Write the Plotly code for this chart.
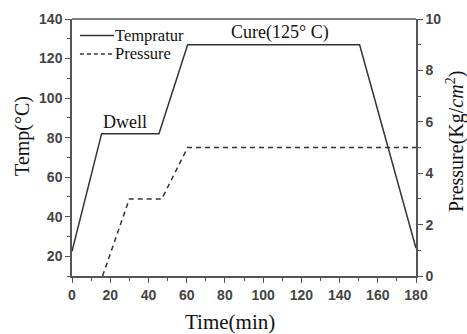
import plotly.graph_objects as go

time_temp = [0, 15.5, 45.5, 60.5, 150.5, 180]
temp = [22.5, 82, 82, 127, 127, 24]
time_pres = [16, 30, 47, 60.5, 180]
pres = [0, 3.0, 3.0, 5.0, 5.0]

x_ticks = [0, 20, 40, 60, 80, 100, 120, 140, 160, 180]
yl_ticks = [20, 40, 60, 80, 100, 120, 140]
yr_ticks = [0, 2, 4, 6, 8, 10]
series_names = ["Tempratur", "Pressure"]

ink = "#333333"
tick_ink = "#444444"
serif = "Liberation Serif"
sans = "Liberation Sans"

fig = go.Figure()
fig.add_trace(go.Scatter(x=time_temp, y=temp, mode="lines", name=series_names[0],
                         line=dict(color=ink, width=1.5)))
fig.add_trace(go.Scatter(x=time_pres, y=pres, mode="lines", name=series_names[1], yaxis="y2",
                         line=dict(color=ink, width=1.5, dash="5px,4px")))

axis_common = dict(showgrid=False, zeroline=False, showline=True, linecolor="#555",
                   linewidth=1.5, ticks="outside", ticklen=5, tickwidth=1.2,
                   tickcolor="#555", tickfont=dict(family=sans, size=14, color=tick_ink, weight="bold"),
                   minor=dict(ticks="outside", ticklen=3, tickwidth=1.2, tickcolor="#555"))

title_font = dict(family=serif, size=20, color="#111")
legend_font = dict(family=serif, size=16.5, color="#111")

# manual legend (positions in paper coords)
leg_y = [0.936, 0.864]
leg_dash = ["solid", "4px,3px"]
leg_shapes = [dict(type="line", xref="paper", yref="paper", x0=0.023, x1=0.122,
                   y0=yy, y1=yy, line=dict(color=ink, width=1.5, dash=d))
              for yy, d in zip(leg_y, leg_dash)]
leg_ann = [dict(x=0.123, y=yy, xref="paper", yref="paper", text=t, showarrow=False,
                xanchor="left", yanchor="middle", font=legend_font, borderpad=0)
           for yy, t in zip(leg_y, series_names)]

fig.update_layout(
    width=467, height=334,
    margin=dict(l=72, r=51, t=19, b=58),
    paper_bgcolor="white", plot_bgcolor="white",
    showlegend=False,
    xaxis=dict(range=[0, 180], tickvals=x_ticks, **axis_common),
    yaxis=dict(range=[10, 140], tickvals=yl_ticks, **axis_common),
    yaxis2=dict(range=[0, 10], tickvals=yr_ticks, overlaying="y", side="right", **axis_common),
    shapes=[dict(type="line", xref="paper", yref="paper", x0=0, x1=1, y0=1, y1=1,
                 line=dict(color="#555", width=1.5))] + leg_shapes,
    annotations=[
        dict(x=27.5, y=82, xref="x", yref="y", text="Dwell", showarrow=False,
             yanchor="bottom", font=dict(family=serif, size=18, color="#111")),
        dict(x=109, y=127, xref="x", yref="y", text="Cure(125° C)", showarrow=False,
             yanchor="bottom", font=dict(family=serif, size=18, color="#111")),
        dict(x=0.459, y=0, xref="paper", yref="paper", yshift=-46, text="Time(min)",
             showarrow=False, xanchor="center", yanchor="middle", font=dict(title_font, size=21)),
        dict(x=0, y=0.545, xref="paper", yref="paper", xshift=-49, text="Temp(°C)",
             textangle=-90, showarrow=False, xanchor="center", yanchor="middle", font=title_font),
        dict(x=1, y=0.521, xref="paper", yref="paper", xshift=39,
             text="Pressure(Kg/<i>cm</i><sup>2</sup>)",
             textangle=-90, showarrow=False, xanchor="center", yanchor="middle", font=title_font),
    ] + leg_ann,
)
fig.update_xaxes(minor=dict(dtick=10))
fig.update_layout(yaxis=dict(minor=dict(dtick=10)), yaxis2=dict(minor=dict(dtick=1)))

fig.write_html("out.html")
